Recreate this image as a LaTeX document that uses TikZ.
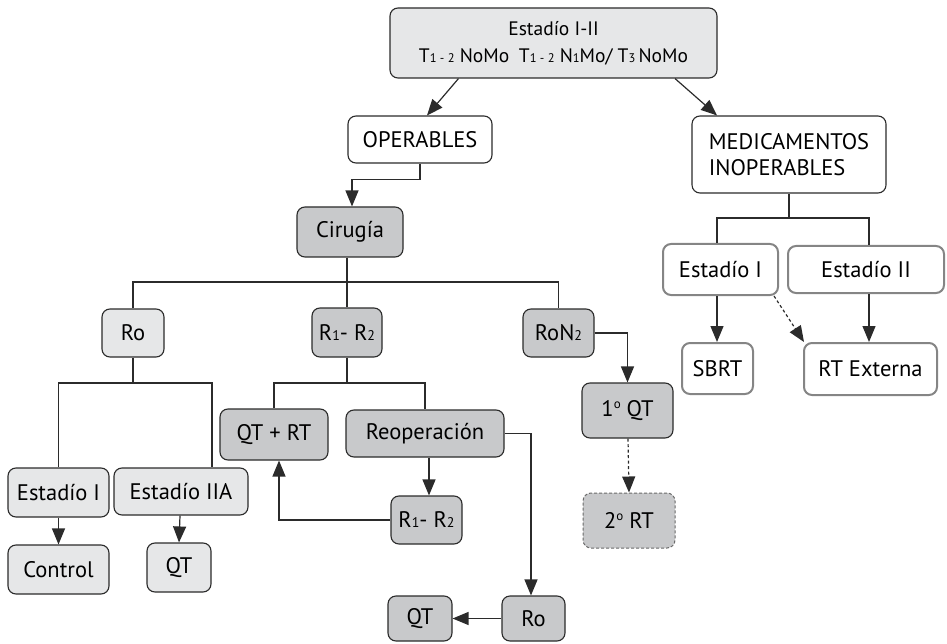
\documentclass[tikz,border=0pt]{standalone}
\usepackage{fontspec}
\setmainfont{PT Sans}
\usetikzlibrary{arrows.meta}
\definecolor{linec}{HTML}{2B2B2B}
\definecolor{lightg}{HTML}{E6E7E8}
\definecolor{midg}{HTML}{C8C9CB}
\definecolor{borderg}{HTML}{858585}
% small inferior figures used in the stage notation
\newcommand{\lowidx}[1]{{\fontsize{14}{14}\selectfont #1}}
\newcommand{\topidx}[1]{{\fontsize{12.5}{12.5}\selectfont #1}}
\newcommand{\ordo}{\raisebox{0.75ex}{\fontsize{13}{13}\selectfont o}}
\tikzset{
  box/.style={rounded corners=8pt, draw=linec, line width=1.1pt, inner sep=0pt,
              align=center, font=\fontsize{22.5}{26}\selectfont},
  sz/.style 2 args={minimum width=#1pt, minimum height=#2pt},
  lightbox/.style={box, fill=lightg},
  midbox/.style={box, fill=midg},
  whitebox/.style={box, fill=white},
  greybox/.style={box, fill=white, draw=borderg, line width=2pt},
  link/.style={draw=linec, line width=1.2pt},
  arr/.style={link, -{Triangle[length=16pt,width=13pt]}},
  dasharr/.style={arr, dash pattern=on 3pt off 2.5pt},
}
\begin{document}
\begin{tikzpicture}[x=1pt,y=-1pt]
\useasboundingbox (0,0) rectangle (947,644);

% top level
\node[lightbox, sz={327}{70}, font=\fontsize{19.5}{27}\selectfont] (top) at (553.5,43)
  {Estadío I-II\\T\topidx{1 - 2} NoMo\hspace{0.5em}T\topidx{1 - 2} N\topidx{1}Mo/ T\topidx{3}\,NoMo};
\node[whitebox, sz={144}{47}] (oper) at (420,139.5) {OPERABLES};
\node[whitebox, sz={194}{77}, align=left] (med) at (789,154.5) {MEDICAMENTOS\\INOPERABLES};

% operable branch
\node[midbox, sz={106}{50}] (ciru) at (350,232) {Cirugía};
\node[lightbox, sz={62}{48}] (ro) at (133,333) {Ro};
\node[midbox, sz={70}{49}] (r12) at (347,332.5) {R\lowidx{1}- R\lowidx{2}};
\node[midbox, sz={71}{48}] (ron2) at (558.5,333) {RoN\lowidx{2}};

\node[lightbox, sz={101}{49}] (est1) at (58.5,492.5) {Estadío I};
\node[lightbox, sz={134}{47}] (est2a) at (181,491.5) {Estadío IIA};
\node[lightbox, sz={101}{49}] (control) at (58.5,569.5) {Control};
\node[lightbox, sz={64}{49}] (qt1) at (179,567.5) {QT};

\node[midbox, sz={108}{51}] (qtrt) at (274,434.5) {QT + RT};
\node[midbox, sz={158}{47}] (reop) at (425,433.5) {Reoperación};
\node[midbox, sz={71}{48}] (r12b) at (426.5,520) {R\lowidx{1}- R\lowidx{2}};
\node[midbox, sz={63}{45}] (rob) at (533.5,618.5) {Ro};
\node[midbox, sz={64}{45}] (qt2) at (420,618.5) {QT};

\node[midbox, sz={91}{55}] (q1) at (627.5,410.5) {1\ordo\ QT};
\node[midbox, sz={92}{55}, draw=borderg!80!black, line width=1pt,
      dash pattern=on 3pt off 2pt] (rt2) at (629,520.5) {2\ordo\ RT};

% inoperable branch
\node[greybox, sz={115}{51}] (esti) at (720.5,269.5) {Estadío I};
\node[greybox, sz={156}{47}] (estii) at (866,269.5) {Estadío II};
\node[greybox, sz={71}{51}] (sbrt) at (717.5,368.5) {SBRT};
\node[greybox, sz={133}{52}] (rtext) at (870.5,369) {RT Externa};

% bus lines of the trees
\coordinate (busA) at (0,282);
\coordinate (busB) at (0,383);
\coordinate (busD) at (0,218);

% connectors
\draw[arr] ([xshift=-95pt]top.south) -- ([xshift=7pt]oper.north);
\draw[arr] ([xshift=121.5pt]top.south) -- ([xshift=-72pt]med.north);
\draw[arr] (oper.south) -- ++(0,16) -| ([xshift=2pt]ciru.north);

\draw[link] ([xshift=-3pt]ciru.south) -- ([xshift=-3pt]ciru.south |- busA);
\draw[link] (ro.north) |- (ron2.north |- busA) -- (ron2.north);
\draw[link] (r12.north) -- (r12.north |- busA);

\draw[link] (ro.south) -- (ro.south |- busB);
\draw[link] (est1.north) |- ([xshift=31pt]est2a.north |- busB) -- ([xshift=31pt]est2a.north);
\draw[arr] (est1.south) -- (control.north);
\draw[arr] ([xshift=-1pt]est2a.south) -- (qt1.north);

\draw[link] (r12.south) -- (r12.south |- busB);
\draw[link] (qtrt.north) |- (reop.north |- busB) -- (reop.north);
\draw[arr] ([xshift=4pt]reop.south) -- ([xshift=2.5pt]r12b.north);
\draw[arr] (r12b.west) -| ([xshift=5pt]qtrt.south);
\draw[arr] (reop.east) -| ([xshift=-2.5pt]rob.north);
\draw[arr] (rob.west) -- (qt2.east);

\draw[arr] (ron2.east) -| (q1.north);
\draw[dasharr] ([xshift=0.5pt]q1.south) -- (rt2.north);

\draw[link] (med.south) -- (med.south |- busD);
\draw[link] ([xshift=-3.5pt]esti.north) |- ([xshift=3pt]estii.north |- busD) -- ([xshift=3pt]estii.north);
\draw[arr] ([xshift=-3.5pt]esti.south) -- ([xshift=-0.5pt]sbrt.north);
\draw[dasharr] ([xshift=-5pt]esti.south east) -- ([xshift=1pt]rtext.north west);
\draw[arr] ([xshift=3pt]estii.south) -- ([xshift=-1.5pt]rtext.north);
\end{tikzpicture}
\end{document}
